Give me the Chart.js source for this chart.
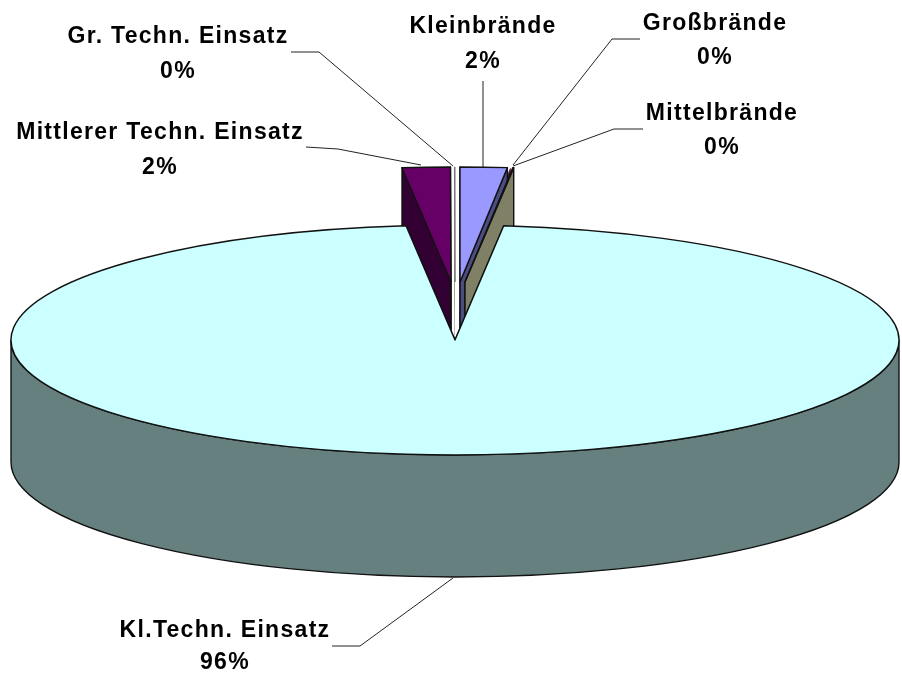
<!DOCTYPE html>
<html>
<head>
<meta charset="utf-8">
<style>html,body{margin:0;padding:0;background:#fff}canvas{display:block}</style>
<script src="https://cdn.jsdelivr.net/npm/chart.js@4"></script>
</head>
<body>
<canvas id="c" width="902" height="673"></canvas>
<script>
const categories = ["Kleinbrände", "Großbrände", "Mittelbrände", "Kl.Techn. Einsatz", "Mittlerer Techn. Einsatz", "Gr. Techn. Einsatz"];
const values = [1.7, 0.02, 0.03, 96.49, 1.74, 0.02];
const topColors = ["#9999FF", "#993366", "#FFFFCC", "#CCFFFF", "#660066", "#FF8080"];
const wallColors = ["#4C4C80", "#4C1A33", "#808066", "#668080", "#330033", "#804040"];
const explodeX = [5, 8, 10, 0, -4, 0];
const explodeY = [-58, -58, -58, 0, -58, -58];
const drawOrder = [5, 1, 0, 2, 4, 3];

const pieGeom = {cx: 455, cy: 340, rx: 444, ry: 115, depth: 122};
const labelLayout = [
  {x: 483, y: 27,  dy: 35, leader: [[483,81],[483,167]]},
  {x: 715, y: 24,  dy: 34, leader: [[640,39],[612,39],[513,165]]},
  {x: 722, y: 114, dy: 34, leader: [[643,129],[614,129],[513,166]]},
  {x: 225, y: 631, dy: 32, leader: [[332,646],[360,646],[453,578]]},
  {x: 160, y: 133, dy: 35, leader: [[306,147],[338,149],[421,165]]},
  {x: 178, y: 37,  dy: 35, leader: [[291,52],[319,52],[453,166]]}
];

const pie3d = {
  id: 'pie3d',
  beforeDatasetsDraw(chart) {
    const ctx = chart.ctx, g = pieGeom;
    const arcs = chart.getDatasetMeta(0).data;
    drawOrder.forEach(i => {
      const el = arcs[i];
      const ox = g.cx + explodeX[i], oy = g.cy + explodeY[i];
      const a0 = el.startAngle, a1 = el.endAngle;
      const rim = a => [ox + g.rx * Math.cos(a), oy + g.ry * Math.sin(a)];
      const thin = (a1 - a0) < 0.01;
      ctx.lineJoin = 'round';
      ctx.lineWidth = 1.4;
      ctx.strokeStyle = '#111';
      // radial end walls
      [a0, a1].forEach(a => {
        const p = rim(a);
        ctx.beginPath();
        ctx.moveTo(ox, oy);
        ctx.lineTo(p[0], p[1]);
        ctx.lineTo(p[0], p[1] + g.depth);
        ctx.lineTo(ox, oy + g.depth);
        ctx.closePath();
        ctx.fillStyle = wallColors[i];
        ctx.fill();
        if (!thin || i === 2) ctx.stroke();
      });
      // outer wall, front half only
      const f0 = Math.max(a0, 0), f1 = Math.min(a1, Math.PI);
      if (f1 > f0) {
        ctx.beginPath();
        ctx.ellipse(ox, oy, g.rx, g.ry, 0, f0, f1);
        ctx.ellipse(ox, oy + g.depth, g.rx, g.ry, 0, f1, f0, true);
        ctx.closePath();
        ctx.fillStyle = wallColors[i];
        ctx.fill();
        ctx.stroke();
      }
      // top face: the library's own arc, squashed to the ellipse
      const R = el.outerRadius;
      ctx.save();
      ctx.translate(ox, oy);
      ctx.scale(g.rx / R, g.ry / R);
      ctx.translate(-el.x, -el.y);
      el.draw(ctx);
      ctx.restore();
      ctx.beginPath();
      ctx.moveTo(ox, oy);
      ctx.ellipse(ox, oy, g.rx, g.ry, 0, a0, a1);
      ctx.closePath();
      ctx.strokeStyle = (i === 5) ? '#777' : '#111';
      ctx.lineWidth = (i === 5) ? 1 : 1.4;
      if (i !== 1) ctx.stroke();
    });
    return false;
  },
  afterDraw(chart) {
    const ctx = chart.ctx;
    const total = values.reduce((a, b) => a + b, 0);
    ctx.save();
    ctx.strokeStyle = '#222';
    ctx.lineWidth = 1;
    labelLayout.forEach(l => {
      ctx.beginPath();
      l.leader.forEach((p, k) => k ? ctx.lineTo(p[0], p[1]) : ctx.moveTo(p[0], p[1]));
      ctx.stroke();
    });
    ctx.fillStyle = '#000';
    ctx.font = 'bold 23px "Liberation Sans"';
    ctx.letterSpacing = '1.3px';
    ctx.textAlign = 'center';
    ctx.textBaseline = 'middle';
    labelLayout.forEach((l, i) => {
      ctx.fillText(categories[i], l.x, l.y);
      ctx.fillText(Math.round(values[i] / total * 100) + '%', l.x, l.y + l.dy);
    });
    ctx.restore();
  }
};

new Chart(document.getElementById('c'), {
  type: 'pie',
  data: {
    labels: categories,
    datasets: [{data: values, backgroundColor: topColors, borderWidth: 0}]
  },
  options: {
    responsive: false,
    animation: false,
    plugins: {legend: {display: false}, tooltip: {enabled: false}},
    layout: {padding: 0}
  },
  plugins: [pie3d]
});
</script>
</body>
</html>
